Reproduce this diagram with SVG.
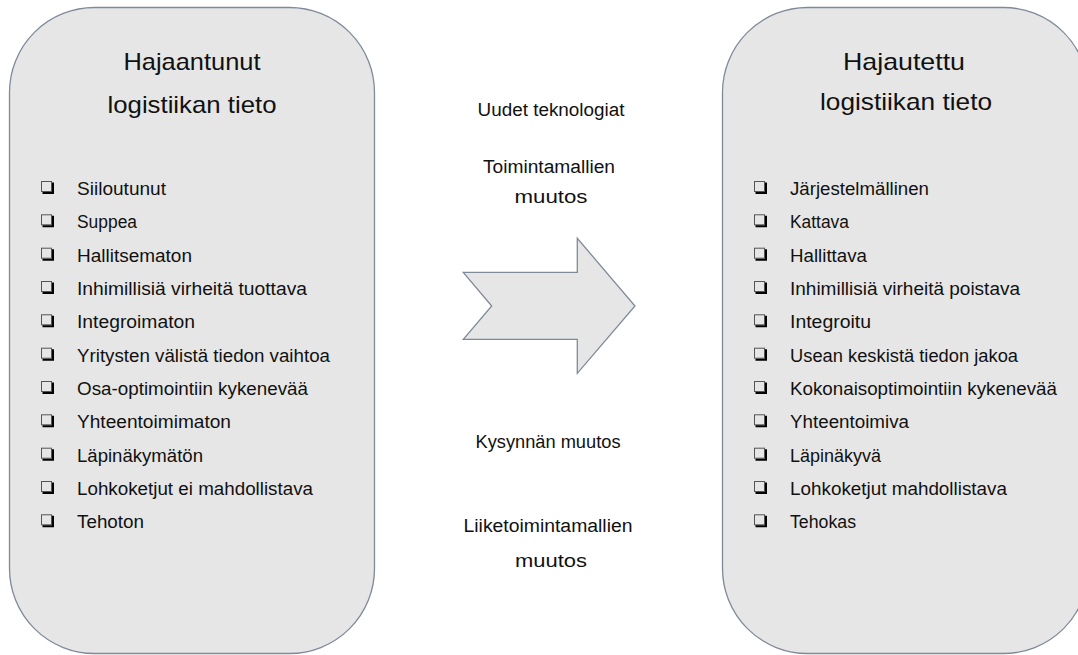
<svg xmlns="http://www.w3.org/2000/svg" xmlns:xlink="http://www.w3.org/1999/xlink" width="1078" height="655" viewBox="0 0 1078 655">
<style>
.box{fill:#e6e6e6;stroke:#7f8a99;stroke-width:1.3}
.t{font-family:"Liberation Sans",Arial,sans-serif;fill:#111}
.title{font-size:24px;text-anchor:middle}
.item{font-size:17.5px}
.mid{font-size:18px;text-anchor:middle}
</style>
<defs>
<symbol id="cb" viewBox="0 0 14 14" width="14" height="14" overflow="visible">
<rect x="0.5" y="0.5" width="10" height="10" fill="none" stroke="#555" stroke-width="1"/>
<path d="M1.5,12 H12 V1.5" fill="none" stroke="#000" stroke-width="2"/>
</symbol>
</defs>
<rect width="1078" height="655" fill="#ffffff"/>

<g id="node-left">
<rect class="box" x="9.5" y="7.5" width="365" height="646" rx="85" ry="85"/>
<text class="t title" x="192" y="70" textLength="137" lengthAdjust="spacingAndGlyphs">Hajaantunut</text>
<text class="t title" x="192" y="113" textLength="169" lengthAdjust="spacingAndGlyphs">logistiikan tieto</text>
<use xlink:href="#cb" x="41" y="181"/>
<use xlink:href="#cb" x="41" y="214.3"/>
<use xlink:href="#cb" x="41" y="247.7"/>
<use xlink:href="#cb" x="41" y="281"/>
<use xlink:href="#cb" x="41" y="314.3"/>
<use xlink:href="#cb" x="41" y="347.7"/>
<use xlink:href="#cb" x="41" y="381"/>
<use xlink:href="#cb" x="41" y="414.3"/>
<use xlink:href="#cb" x="41" y="447.7"/>
<use xlink:href="#cb" x="41" y="481"/>
<use xlink:href="#cb" x="41" y="514.3"/>
<text class="t item" x="77" y="195" textLength="89" lengthAdjust="spacingAndGlyphs">Siiloutunut</text>
<text class="t item" x="77" y="228.3" textLength="60" lengthAdjust="spacingAndGlyphs">Suppea</text>
<text class="t item" x="77" y="261.7" textLength="115" lengthAdjust="spacingAndGlyphs">Hallitsematon</text>
<text class="t item" x="77" y="295" textLength="230" lengthAdjust="spacingAndGlyphs">Inhimillisiä virheitä tuottava</text>
<text class="t item" x="77" y="328.3" textLength="118" lengthAdjust="spacingAndGlyphs">Integroimaton</text>
<text class="t item" x="77" y="361.7" textLength="253" lengthAdjust="spacingAndGlyphs">Yritysten välistä tiedon vaihtoa</text>
<text class="t item" x="77" y="395" textLength="231" lengthAdjust="spacingAndGlyphs">Osa-optimointiin kykenevää</text>
<text class="t item" x="77" y="428.3" textLength="154" lengthAdjust="spacingAndGlyphs">Yhteentoimimaton</text>
<text class="t item" x="77" y="461.7" textLength="126" lengthAdjust="spacingAndGlyphs">Läpinäkymätön</text>
<text class="t item" x="77" y="495" textLength="236" lengthAdjust="spacingAndGlyphs">Lohkoketjut ei mahdollistava</text>
<text class="t item" x="77" y="528.3" textLength="67" lengthAdjust="spacingAndGlyphs">Tehoton</text>
</g>

<g id="node-right">
<rect class="box" x="722.5" y="7.5" width="366" height="646" rx="85" ry="85"/>
<text class="t title" x="904" y="69.5" textLength="122" lengthAdjust="spacingAndGlyphs">Hajautettu</text>
<text class="t title" x="906" y="110" textLength="172" lengthAdjust="spacingAndGlyphs">logistiikan tieto</text>
<use xlink:href="#cb" x="754" y="181"/>
<use xlink:href="#cb" x="754" y="214.3"/>
<use xlink:href="#cb" x="754" y="247.7"/>
<use xlink:href="#cb" x="754" y="281"/>
<use xlink:href="#cb" x="754" y="314.3"/>
<use xlink:href="#cb" x="754" y="347.7"/>
<use xlink:href="#cb" x="754" y="381"/>
<use xlink:href="#cb" x="754" y="414.3"/>
<use xlink:href="#cb" x="754" y="447.7"/>
<use xlink:href="#cb" x="754" y="481"/>
<use xlink:href="#cb" x="754" y="514.3"/>
<text class="t item" x="790" y="195" textLength="139" lengthAdjust="spacingAndGlyphs">Järjestelmällinen</text>
<text class="t item" x="790" y="228.3" textLength="59" lengthAdjust="spacingAndGlyphs">Kattava</text>
<text class="t item" x="790" y="261.7" textLength="77" lengthAdjust="spacingAndGlyphs">Hallittava</text>
<text class="t item" x="790" y="295" textLength="230" lengthAdjust="spacingAndGlyphs">Inhimillisiä virheitä poistava</text>
<text class="t item" x="790" y="328.3" textLength="81" lengthAdjust="spacingAndGlyphs">Integroitu</text>
<text class="t item" x="790" y="361.7" textLength="228" lengthAdjust="spacingAndGlyphs">Usean keskistä tiedon jakoa</text>
<text class="t item" x="790" y="395" textLength="267" lengthAdjust="spacingAndGlyphs">Kokonaisoptimointiin kykenevää</text>
<text class="t item" x="790" y="428.3" textLength="119" lengthAdjust="spacingAndGlyphs">Yhteentoimiva</text>
<text class="t item" x="790" y="461.7" textLength="91" lengthAdjust="spacingAndGlyphs">Läpinäkyvä</text>
<text class="t item" x="790" y="495" textLength="217" lengthAdjust="spacingAndGlyphs">Lohkoketjut mahdollistava</text>
<text class="t item" x="790" y="528.3" textLength="66" lengthAdjust="spacingAndGlyphs">Tehokas</text>
</g>

<g id="connectors">
<polygon id="arrow" class="box" points="463.3,272.3 577.3,272.3 577.3,238.3 635,306 577.3,373.3 577.3,339.3 463.3,339.3 491.7,306"/>
</g>

<g id="labels">
<text class="t mid" x="551" y="115.5" textLength="147" lengthAdjust="spacingAndGlyphs">Uudet teknologiat</text>
<text class="t mid" x="549" y="172.5" textLength="132" lengthAdjust="spacingAndGlyphs">Toimintamallien</text>
<text class="t mid" x="551" y="203" textLength="73" lengthAdjust="spacingAndGlyphs">muutos</text>
<text class="t mid" x="548" y="447.5" textLength="145" lengthAdjust="spacingAndGlyphs">Kysynnän muutos</text>
<text class="t mid" x="548" y="532" textLength="169" lengthAdjust="spacingAndGlyphs">Liiketoimintamallien</text>
<text class="t mid" x="551" y="567" textLength="72" lengthAdjust="spacingAndGlyphs">muutos</text>
</g>
</svg>
